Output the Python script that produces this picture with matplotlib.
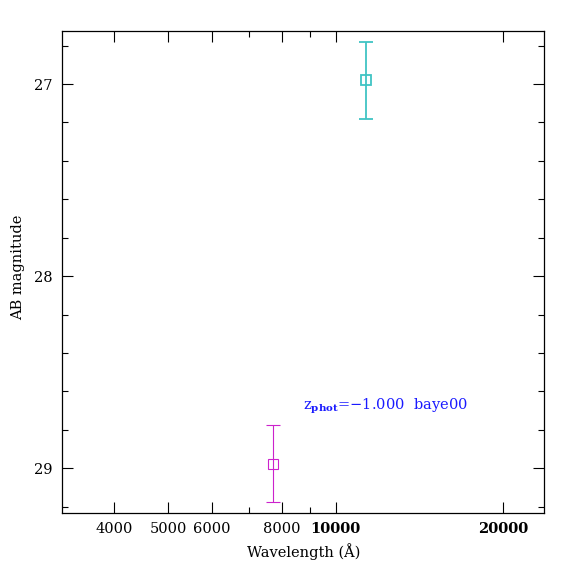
import numpy as np
import matplotlib.pyplot as plt
from matplotlib.ticker import FixedLocator, NullFormatter, MultipleLocator

# photometric points (wavelength in Angstrom, AB mag, error)
wave = [11320, 7726]
mag = [26.981, 28.976]
err = [0.20, 0.20]
colors = ['#40c4c4', '#cc22cc']
line_w = [1.3, 0.8]

xticks = [4000, 5000, 6000, 8000, 10000, 20000]
xticklabels = ['4000', '5000', '6000', '8000', '10000', '20000']
xminor = [7000, 9000]
yticks = [27, 28, 29]

label_txt = r'z$_{\mathbf{phot}}$=$-$1.000  baye00'

plt.rcParams['font.family'] = ['DejaVu Serif']
plt.rcParams['mathtext.fontset'] = 'dejavuserif'

fig = plt.figure(figsize=(5.74, 5.74), dpi=100)
ax = fig.add_axes([62.3 / 574, 1 - 512.7 / 574, (544.3 - 62.3) / 574, (512.7 - 31) / 574])

for w, m, e, c, lw in zip(wave, mag, err, colors, line_w):
    ax.errorbar(w, m, yerr=e, fmt='s', mfc='none', mec=c, ms=7, mew=lw,
                ecolor=c, elinewidth=lw, capsize=4.8, capthick=lw)

ax.set_xscale('log')
ax.set_xlim(3228, 23690)
ax.set_ylim(29.231, 26.724)

ax.xaxis.set_major_locator(FixedLocator(xticks))
ax.xaxis.set_minor_locator(FixedLocator(xminor))
ax.set_xticks(xticks)
ax.set_xticklabels(xticklabels)
ax.xaxis.set_minor_formatter(NullFormatter())
for lab in ax.get_xticklabels():
    if lab.get_text() in ('10000', '20000'):
        lab.set_fontweight('bold')

ax.yaxis.set_major_locator(FixedLocator(yticks))
ax.yaxis.set_minor_locator(MultipleLocator(0.2))

ax.tick_params(which='both', direction='in', top=True, right=True, labelsize=10.5, width=0.8)
ax.tick_params(which='major', length=8, pad=7)
ax.tick_params(which='minor', length=4.3)
for s in ax.spines.values():
    s.set_linewidth(0.9)

ax.set_xlabel('Wavelength (Å)', fontsize=10.5, labelpad=5)
ax.set_ylabel('AB magnitude', fontsize=10.5)
ax.yaxis.set_label_coords(-0.077, 0.51)

ax.text(8735, 28.68, label_txt, color='#1a1aff', fontsize=10.5, ha='left', va='center')

fig.savefig('out.png', dpi=100)
